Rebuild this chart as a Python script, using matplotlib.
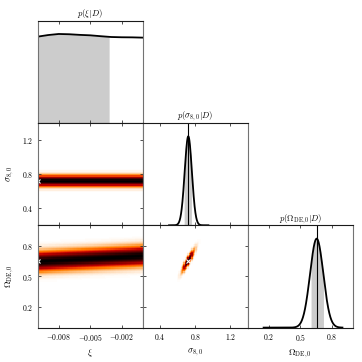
import matplotlib.pyplot as plt
import numpy as np

plt.rcParams['font.family'] = 'serif'
plt.rcParams['font.serif'] = ['cmr10', 'DejaVu Serif']
plt.rcParams['mathtext.fontset'] = 'cm'
plt.rcParams['axes.formatter.use_mathtext'] = True

# axis ranges and ticks
xi_lim = [-0.01, 0.0]
s8_lim = [0.2, 1.4]
om_lim = [0.0, 1.0]
xi_ticks = [-0.008, -0.005, -0.002]
s8_ticks = [0.4, 0.8, 1.2]
om_ticks = [0.2, 0.5, 0.8]
xi_ticklabels = ['$-0.008$', '$-0.005$', '$-0.002$']
s8_ticklabels = ['$0.4$', '$0.8$', '$1.2$']
om_ticklabels = ['$0.2$', '$0.5$', '$0.8$']

# p(xi|D) (relative to its peak)
xi_grid = [-0.010, -0.009, -0.008, -0.007, -0.006, -0.005,
           -0.004, -0.003, -0.002, -0.001, 0.000]
xi_post = [0.970, 0.988, 1.000, 0.997, 0.990, 0.985,
           0.975, 0.966, 0.963, 0.962, 0.959]
xi_shade_hi = -0.0032

# sigma_8,0 and Omega_DE,0 posteriors (gaussian summary)
s8_mean, s8_std = 0.72, 0.041
s8_band = [0.672, 0.756]
om_mean, om_std = 0.655, 0.063
om_band = [0.600, 0.720]
om_centre_xi = [0.645, 0.700]   # centre of the Omega band at xi = -0.01 and xi = 0
rho_s8_om = 0.90

best_xi, best_s8, best_om = -0.01, 0.72, 0.65

cmap = 'gist_heat_r'
n_bins = 80


def gauss(x, mu, sd):
    return np.exp(-0.5 * ((x - mu) / sd) ** 2)


def estilo(ax, diag=False):
    for lado in ['left', 'right']:
        ax.spines[lado].set_color('0.45')
        ax.spines[lado].set_linewidth(0.8)
    for lado in ['top', 'bottom']:
        ax.spines[lado].set_color('0.1')
        ax.spines[lado].set_linewidth(0.8)
    ax.tick_params(direction='in', length=2.5, width=0.6, color='0.2',
                   labelsize=5.5, pad=3, top=True, bottom=True,
                   left=not diag, right=not diag,
                   labelbottom=False, labelleft=False)


fig = plt.figure(figsize=(3.62, 3.62), dpi=100)
gs = fig.add_gridspec(3, 3, left=0.104, right=0.975, bottom=0.095, top=0.943,
                      wspace=0, hspace=0)

lims = [xi_lim, s8_lim, om_lim]
ticks = [xi_ticks, s8_ticks, om_ticks]
ticklabels = [xi_ticklabels, s8_ticklabels, om_ticklabels]
names = [r'$\xi$', r'$\sigma_{8,0}$', r'$\Omega_{\rm DE,0}$']
titles = [r'$p(\xi|D)$', r'$p(\sigma_{8,0}|D)$', r'$p(\Omega_{\rm DE,0}|D)$']

axes = {}
for i in range(3):
    for j in range(i + 1):
        ax = fig.add_subplot(gs[i, j])
        axes[(i, j)] = ax
        estilo(ax, diag=(i == j))
        ax.set_xlim(lims[j])
        ax.set_xticks(ticks[j])
        if i != j:
            ax.set_ylim(lims[i])
            ax.set_yticks(ticks[i])
        if i == 2:
            ax.tick_params(labelbottom=True)
            ax.set_xticklabels(ticklabels[j])
            ax.set_xlabel(names[j], fontsize=6.5, labelpad=3)
        if j == 0 and i > 0:
            ax.tick_params(labelleft=True)
            ax.set_yticklabels(ticklabels[i])
            ax.set_ylabel(names[i], fontsize=6.5, labelpad=4)

# --- diagonal: 1D posteriors
ax = axes[(0, 0)]
ax.plot(xi_grid, xi_post, color='black', lw=1.3)
xi_arr = np.array(xi_grid)
sel = xi_arr <= xi_shade_hi + 1e-12
ax.fill_between(list(xi_arr[sel]) + [xi_shade_hi],
                list(np.array(xi_post)[sel]) + [np.interp(xi_shade_hi, xi_grid, xi_post)],
                0, color='0.8', lw=0)
ax.set_ylim(0, 1.15)
ax.set_yticks([])
ax.set_title(titles[0], fontsize=6.2, pad=3)

ax = axes[(1, 1)]
s = np.linspace(0.50, 0.95, 300)
ps = gauss(s, s8_mean, s8_std)
ax.fill_between(s, ps, 0, where=(s >= s8_band[0]) & (s <= s8_band[1]), color='0.8', lw=0)
ax.plot(s, ps, color='black', lw=1.3)
ax.axvline(s8_mean, color='black', lw=0.8)
ax.set_ylim(0, 1.15)
ax.set_yticks([])
ax.set_title(titles[1], fontsize=6.2, pad=3)

ax = axes[(2, 2)]
o = np.linspace(0.15, 0.90, 300)
po = gauss(o, om_mean, om_std)
ax.fill_between(o, po, 0, where=(o >= om_band[0]) & (o <= om_band[1]), color='0.8', lw=0)
ax.plot(o, po, color='black', lw=1.3)
ax.axvline(om_mean, color='black', lw=0.8)
ax.set_ylim(0, 1.15)
ax.set_yticks([])
ax.set_title(titles[2], fontsize=6.2, pad=3)

# --- 2D posteriors
xe = np.linspace(xi_lim[0], xi_lim[1], n_bins + 1)
se = np.linspace(s8_lim[0], s8_lim[1], n_bins + 1)
oe = np.linspace(om_lim[0], om_lim[1], n_bins + 1)
xc = 0.5 * (xe[1:] + xe[:-1])
sc = 0.5 * (se[1:] + se[:-1])
oc = 0.5 * (oe[1:] + oe[:-1])

ax = axes[(1, 0)]
X, S = np.meshgrid(xc, sc)
dens = gauss(S, s8_mean, s8_std)
ax.pcolormesh(xe, se, dens / dens.max(), cmap=cmap, vmin=0, vmax=1)
ax.plot(best_xi, best_s8, 'x', color='white', ms=3, mew=0.8)

ax = axes[(2, 0)]
X, O = np.meshgrid(xc, oc)
centro = om_centre_xi[0] + (X - xi_lim[0]) / (xi_lim[1] - xi_lim[0]) * (om_centre_xi[1] - om_centre_xi[0])
dens = gauss(O, centro, om_std * 0.95)
ax.pcolormesh(xe, oe, dens / dens.max(), cmap=cmap, vmin=0, vmax=1)
ax.plot(best_xi, best_om, 'x', color='white', ms=3, mew=0.8)

ax = axes[(2, 1)]
S, O = np.meshgrid(sc, oc)
u = (S - s8_mean) / s8_std
v = (O - om_mean) / om_std
dens = np.exp(-0.5 * (u ** 2 - 2 * rho_s8_om * u * v + v ** 2) / (1 - rho_s8_om ** 2))
ax.pcolormesh(se, oe, dens / dens.max(), cmap=cmap, vmin=0, vmax=1)
ax.plot(best_s8, best_om, 'x', color='white', ms=3, mew=0.8)

plt.savefig('out.png', dpi=100)
plt.close()
